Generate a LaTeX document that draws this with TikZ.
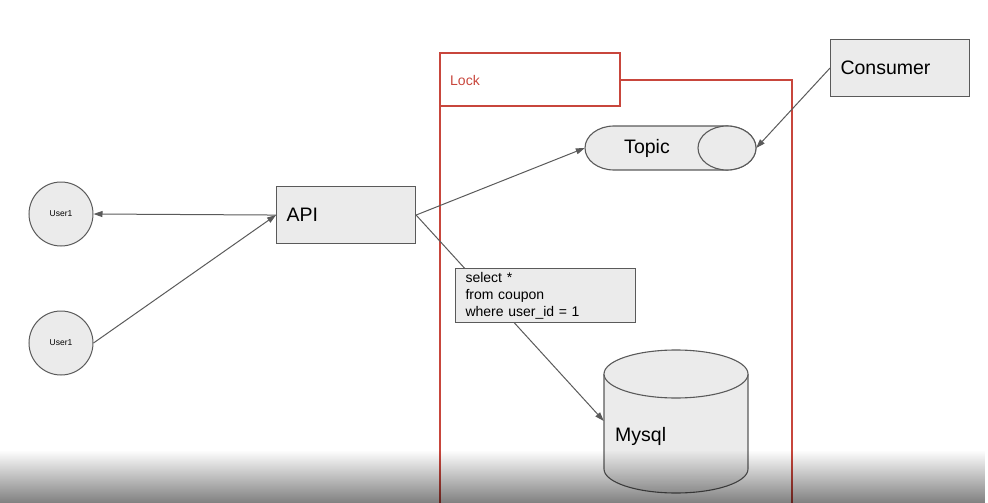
\documentclass[tikz,border=0pt]{standalone}
\usepackage{fontspec}
\setmainfont{Liberation Sans}
\usepackage{xcolor}
\usetikzlibrary{arrows.meta, fadings}

\definecolor{boxfill}{HTML}{EBEBEB}
\definecolor{boxline}{HTML}{5A5A5A}
\definecolor{lockred}{HTML}{C8463C}
\tikzfading[name=screenshade, top color=transparent!100, middle color=transparent!88, bottom color=transparent!50]

\begin{document}
\begin{tikzpicture}[x=1pt, y=-1pt, >={Triangle[length=9pt, width=6pt]},
    box/.style={draw=boxline, fill=boxfill, line width=1.1pt, inner xsep=10pt,
        align=left, anchor=north west},
    user/.style={circle, draw=boxline, fill=boxfill, line width=1pt,
        minimum size=64pt, inner sep=0pt, font=\fontsize{8.5}{10}\selectfont},
    drum/.style={draw=boxline, fill=boxfill, line width=1.1pt},
    area/.style={inner sep=0pt},
    link/.style={->, draw=boxline, line width=1pt},
    big/.style={font=\fontsize{19.5}{22}\selectfont}]
    \useasboundingbox (0,0) rectangle (988,503);

    % 1. Khung Lock
    \draw[lockred, line width=1.1pt] (440,503) -- (440,53) -- (620,53) -- (620,106) -- (440,106);
    \draw[lockred, line width=1.1pt] (620,80) -- (792,80) -- (792,503);
    \node[anchor=west, inner sep=0pt, text=lockred, font=\fontsize{14}{16}\selectfont] (lock) at (450,80) {Lock};

    % 2. Hình trụ Topic và Mysql
    \draw[drum] (614,126) -- (727,126) arc[start angle=270, end angle=450, x radius=29, y radius=22]
        -- (614,170) arc[start angle=90, end angle=270, x radius=29, y radius=22] -- cycle;
    \draw[drum] (727,148) ellipse[x radius=29, y radius=22];
    \draw[drum] (604,374) -- (604,469) arc[start angle=180, end angle=0, x radius=72, y radius=24]
        -- (748,374);
    \draw[drum] (676,374) ellipse[x radius=72, y radius=24];
    \node[area, minimum width=171pt, minimum height=44pt] (topic) at (670.5,148) {};
    \node[area, minimum width=144pt, minimum height=143pt] (mysql) at (676,421) {};
    \node[big] (topictext) at (647,148) {Topic};
    \node[big, anchor=west, inner sep=0pt] (mysqltext) at (615,436) {Mysql};

    % 3. Các node
    \node[user] (userA) at (61,214) {User1};
    \node[user] (userB) at (61,343) {User1};
    \node[box, big, text width=119pt, minimum height=57pt] (api) at (276,186) {API};
    \node[box, big, text width=119pt, minimum height=57pt] (consumer) at (830,39) {Consumer};

    % 4. Mũi tên
    \draw[link] (api.west) -- (userA.east);
    \draw[link] (userB.east) -- (api.west);
    \draw[link] (api.east) -- (topic.west);
    \draw[link] (consumer.west) -- (topic.east);
    \draw[link] (api.east) -- (mysql.west);

    % 5. Câu truy vấn
    \node[box, text width=160pt, minimum height=52pt, font=\fontsize{14}{17}\selectfont] (query) at (455,268)
        {select *\\from coupon\\where user\_id = 1};

    % 6. Bóng mờ phía dưới
    \fill[black, path fading=screenshade] (0,450) rectangle (988,503);
\end{tikzpicture}
\end{document}
